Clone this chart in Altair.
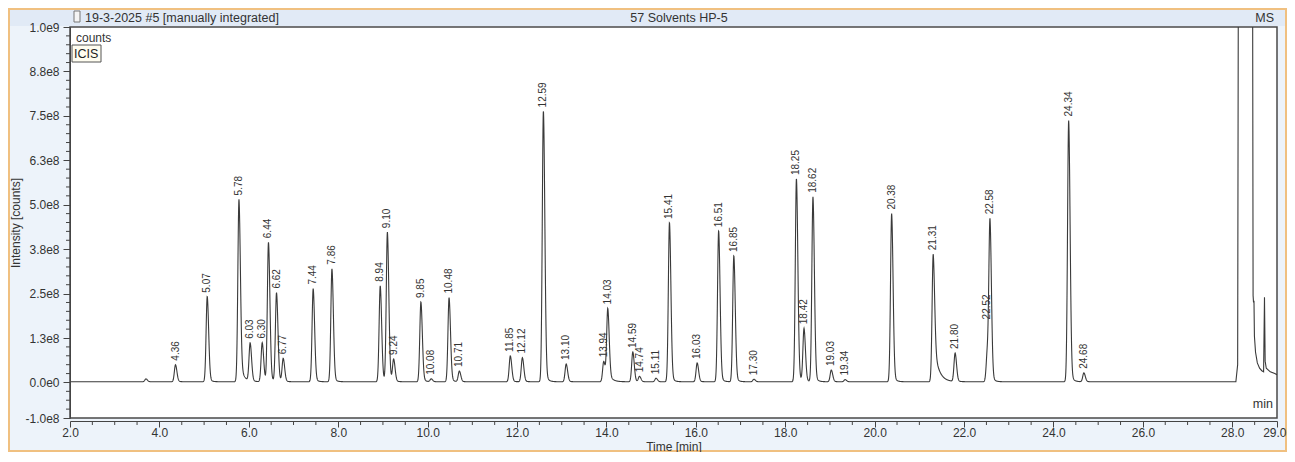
import altair as alt
import numpy as np
import pandas as pd

# ---- peak table (retention time [min], apex height [1e8 counts])
peak_rt = [4.36, 5.07, 5.78, 6.03, 6.30, 6.44, 6.62, 6.77, 7.44, 7.86,
           8.94, 9.10, 9.24, 9.85, 10.08, 10.48, 10.71, 11.85, 12.12, 12.59,
           13.10, 13.94, 14.03, 14.59, 14.74, 15.11, 15.41, 16.03, 16.51, 16.85,
           17.30, 18.25, 18.42, 18.62, 19.03, 19.34, 20.38, 21.31, 21.80, 22.52,
           22.58, 24.34, 24.68]
peak_height = [0.48, 2.40, 5.13, 1.07, 1.10, 3.92, 2.50, 0.65, 2.62, 3.18,
               2.70, 4.20, 0.62, 2.25, 0.08, 2.37, 0.30, 0.73, 0.68, 7.63,
               0.50, 0.57, 2.05, 0.84, 0.15, 0.10, 4.48, 0.53, 4.25, 3.55,
               0.07, 5.72, 1.49, 5.20, 0.33, 0.06, 4.73, 3.60, 0.80, 0.80,
               4.45, 7.35, 0.25]
# tailing fraction of each peak (read from the shape of the trailing edge)
peak_tail = [0.08, 0.08, 0.15, 0.08, 0.08, 0.08, 0.08, 0.08, 0.08, 0.08,
             0.08, 0.08, 0.08, 0.10, 0.08, 0.10, 0.08, 0.08, 0.08, 0.08,
             0.08, 0.08, 0.15, 0.08, 0.08, 0.08, 0.08, 0.08, 0.08, 0.08,
             0.08, 0.08, 0.08, 0.08, 0.08, 0.08, 0.08, 0.35, 0.08, 0.08,
             0.08, 0.08, 0.08]
# unlabelled small bump
minor_rt = [3.70]
minor_height = [0.08]
# solvent front / column bleed at the end of the run (min, 1e8 counts)
end_t = [28.08, 28.12, 28.14, 28.45, 28.465, 28.475, 28.485, 28.495, 28.52,
         28.56, 28.61, 28.66, 28.70, 28.72, 28.735, 28.76, 28.85, 28.95, 29.0]
end_y = [0.02, 0.5, 15.0, 15.0, 2.45, 2.25, 2.3, 1.3, 0.85,
         0.55, 0.4, 0.33, 0.3, 2.4, 0.6, 0.4, 0.3, 0.25, 0.22]

# axis ticks
x_major = [2, 4, 6, 8, 10, 12, 14, 16, 18, 20, 22, 24, 26, 28, 29]
y_major = [-1e8, 0, 1.25e8, 2.5e8, 3.75e8, 5e8, 6.25e8, 7.5e8, 8.75e8, 1e9]

# ---- build trace table from the peak table
SL, SR = 0.025, 0.032
t = np.round(np.arange(2.0, 28.08, 0.004), 4)
sig = np.full_like(t, 0.02e8)
for rt, h, tf in zip(peak_rt + minor_rt, peak_height + minor_height,
                     peak_tail + [0.08] * len(minor_rt)):
    tau = 0.1 if tf >= 0.3 else (0.075 if tf > 0.1 else 0.05)
    d = t - rt
    left = np.exp(-0.5 * (d / SL) ** 2)
    dp = np.clip(d, 0, None)
    right = (1 - tf) * np.exp(-0.5 * (dp / SR) ** 2) + tf * np.exp(-dp / tau)
    sig += h * 1e8 * np.where(d < 0, left, right)

trace = pd.DataFrame({
    "t": np.concatenate([t, end_t]),
    "y": np.concatenate([sig, np.array(end_y) * 1e8]),
})

lab_y = []
for rt in peak_rt:
    m = (t > rt - 0.02) & (t < rt + 0.02)
    lab_y.append(float(sig[m].max()))
labels = pd.DataFrame({"t": peak_rt, "y": lab_y,
                       "label": [f"{v:.2f}" for v in peak_rt]})

x_minor = [float(v) for v in np.arange(2.5, 29.0, 0.5) if v not in x_major]
y_minor = [float(v) for v in np.arange(-1e8, 1e9 + 1, 0.25e8)
           if min(abs(v - m) for m in y_major) > 1e6]

FONT = "Liberation Sans"
XS = alt.Scale(domain=[2, 29], nice=False, zero=False)
YS = alt.Scale(domain=[-1e8, 1e9], nice=False, zero=False)
one = pd.DataFrame({"a": [0]})

XAX = alt.Axis(
    values=x_major, format=".1f", offset=3, tickSize=6, labelPadding=0,
    labelFlush=False, labelFontSize=12, labelColor="#333", labelFont=FONT,
    labelAlign=alt.ExprRef("datum.value == 29 ? 'right' : 'center'"),
    labelOffset=alt.ExprRef("datum.value == 29 ? 9 : 0"),
    domainColor="#444", tickColor="#444", title="Time [min]",
    titleFontSize=12, titleFontWeight="normal", titleColor="#333", titleFont=FONT,
    titleY=25, titleBaseline="middle", zindex=1)
YAX = alt.Axis(
    values=y_major,
    labelExpr="replace(replace(format(datum.value, '.1e'), '+', ''), '\u2212', '-')",
    tickSize=7, labelPadding=4, labelFlush=False, labelFontSize=12,
    labelColor="#333", labelFont=FONT, domainColor="#444", tickColor="#444",
    title="Intensity [counts]", titleFontSize=12, titleFontWeight="normal",
    titleColor="#333", titleFont=FONT, titleX=-55, titleY=195.5,
    titleAngle=270, titleAlign="center", titleBaseline="middle", zindex=1)

line = alt.Chart(trace).mark_line(color="#3a3a3a", strokeWidth=1.1, clip=True).encode(
    x=alt.X("t:Q", scale=XS, axis=XAX),
    y=alt.Y("y:Q", scale=YS, axis=YAX),
)

peak_labels = alt.Chart(labels).mark_text(
    angle=270, align="left", baseline="middle", dx=4, fontSize=10,
    color="#333", font=FONT).encode(
    x=alt.X("t:Q", scale=XS, axis=XAX),
    y=alt.Y("y:Q", scale=YS, axis=YAX),
    text="label:N")

ymin_rules = alt.Chart(pd.DataFrame({"y": y_minor})).mark_rule(color="#444").encode(
    y=alt.Y("y:Q", scale=YS, axis=YAX), x=alt.value(-4), x2=alt.value(0))
xmin_rules = alt.Chart(pd.DataFrame({"t": x_minor})).mark_rule(color="#444").encode(
    x=alt.X("t:Q", scale=XS, axis=XAX), y=alt.value(394), y2=alt.value(398))

def box(x1, x2, y1, y2, **kw):
    return alt.Chart(one).mark_rect(**kw).encode(
        x=alt.value(x1), x2=alt.value(x2), y=alt.value(y1), y2=alt.value(y2))

def txt(s, x, y, align="left", size=12, color="#333"):
    return alt.Chart(one).mark_text(align=align, baseline="middle", fontSize=size,
                                    color=color, font=FONT).encode(
        x=alt.value(x), y=alt.value(y), text=alt.value(s))

title_bar = box(-61, 1216, -18, -1, fill="#e1eaf6")
border = box(-61, 1216, -18, 424, fill="white", fillOpacity=0, stroke="#f0c080", strokeWidth=2)
icon = box(4, 10, -16, -5, fill="#f4f4f4", stroke="#777", strokeWidth=1)
icis = box(2, 31, 18, 35, fill="#fffdf0", stroke="#555", strokeWidth=1)

chart = alt.layer(
    line, peak_labels, ymin_rules, xmin_rules,
    title_bar, border, icon, icis,
    txt("19-3-2025 #5 [manually integrated]", 15, -9, size=12.5),
    txt("57 Solvents HP-5", 609, -9, align="center", size=12.5),
    txt("MS", 1204, -9, align="right", size=12.5),
    txt("counts", 6, 11),
    txt("ICIS", 4, 27, size=12.5, color="#222"),
    txt("min", 1203, 377, align="right", size=12.5),
).properties(
    width=1207, height=391, background="#edf3fa",
    padding={"left": 62, "top": 19, "right": 10, "bottom": 34},
    autosize=alt.AutoSizeParams(type="none"),
).configure_view(fill="white", stroke="#4a4a4a", strokeWidth=1.5
).configure_axis(grid=False)

chart.save("out.html", embed_options={"renderer": "svg", "actions": False})
